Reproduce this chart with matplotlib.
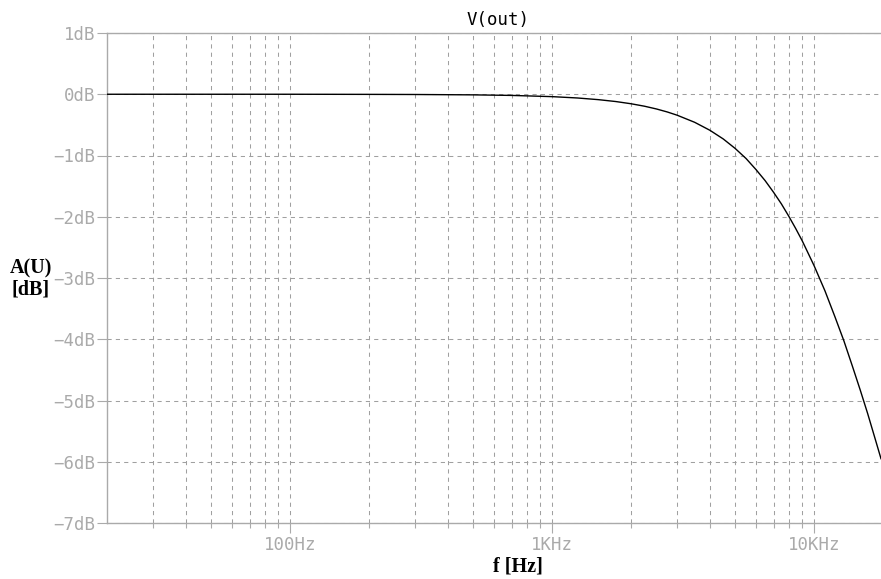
import numpy as np
import matplotlib.pyplot as plt
from matplotlib.ticker import FixedLocator, FixedFormatter, NullFormatter

# values
freq_hz = [20, 50, 100, 200, 300, 500, 700, 1000, 1250, 1500, 1750, 2000, 2250,
           2500, 2750, 3000, 3500, 4000, 4500, 5000, 5500, 6000, 6500, 7000,
           7500, 8000, 8500, 9000, 9500, 10000, 11000, 12000, 13000, 14000,
           15000, 16000, 17000, 18000]
gain_db = [0.0, 0.0, 0.0, -0.002, -0.004, -0.01, -0.019, -0.039, -0.061, -0.088,
           -0.119, -0.155, -0.195, -0.24, -0.289, -0.342, -0.458, -0.588, -0.73,
           -0.886, -1.05, -1.23, -1.41, -1.60, -1.79, -1.99, -2.19, -2.39, -2.60,
           -2.80, -3.21, -3.63, -4.03, -4.44, -4.83, -5.21, -5.59, -5.95]

x_major = [100, 1000, 10000]
x_major_labels = ["100Hz", "1KHz", "10KHz"]
x_minor = [30, 40, 50, 60, 70, 80, 90,
           200, 300, 400, 500, 600, 700, 800, 900,
           2000, 3000, 4000, 5000, 6000, 7000, 8000, 9000]
y_ticks = [1, 0, -1, -2, -3, -4, -5, -6, -7]
y_labels = ["1dB", "0dB", "−1dB", "−2dB", "−3dB", "−4dB", "−5dB", "−6dB", "−7dB"]

grey = "#aaaaaa"
gridc = "#a0a0a0"
mono = "DejaVu Sans Mono"

fig = plt.figure(figsize=(8.81, 5.79), dpi=100)
ax = fig.add_axes([107/881, 1-523/579, 1-107/881, (523-33)/579])

ax.plot(freq_hz, gain_db, color="black", lw=1.0, zorder=3)
ax.set_xscale("log")
ax.set_xlim(20, 18000)
ax.set_ylim(-7, 1)

ax.xaxis.set_major_locator(FixedLocator(x_major))
ax.xaxis.set_major_formatter(FixedFormatter(x_major_labels))
ax.xaxis.set_minor_locator(FixedLocator(x_minor))
ax.xaxis.set_minor_formatter(NullFormatter())
ax.yaxis.set_major_locator(FixedLocator(y_ticks))
ax.yaxis.set_major_formatter(FixedFormatter(y_labels))

for lab in ax.get_xticklabels() + ax.get_yticklabels():
    lab.set_fontfamily(mono)
    lab.set_fontsize(12.5)
    lab.set_color(grey)

ax.tick_params(axis="both", which="major", direction="out", length=7.5, width=0.8,
               color=grey, pad=2)
ax.tick_params(axis="x", which="minor", direction="out", length=3.8, width=0.8,
               color=grey)
ax.tick_params(axis="y", pad=1)

ax.grid(True, which="both", axis="x", color=gridc, lw=0.75, linestyle=(0, (4, 4)))
ax.grid(True, which="major", axis="y", color=gridc, lw=0.75, linestyle=(0, (4, 4)))

for s in ["left", "bottom", "top"]:
    ax.spines[s].set_color(grey)
    ax.spines[s].set_linewidth(1.0)
ax.spines["right"].set_visible(False)

fig.text(498/881, 1-20/579, "V(out)", family=mono, fontsize=12.5, color="black",
         ha="center", va="center")
fig.text(31/881, 1-279/579, "A(U)\n[dB]", family="Liberation Serif", fontweight="bold",
         fontsize=14.5, ha="center", va="center", linespacing=1.1)
fig.text(518/881, 1-567/579, "f [Hz]", family="Liberation Serif", fontweight="bold",
         fontsize=14.5, ha="center", va="center")

fig.savefig("out.png", dpi=100)
